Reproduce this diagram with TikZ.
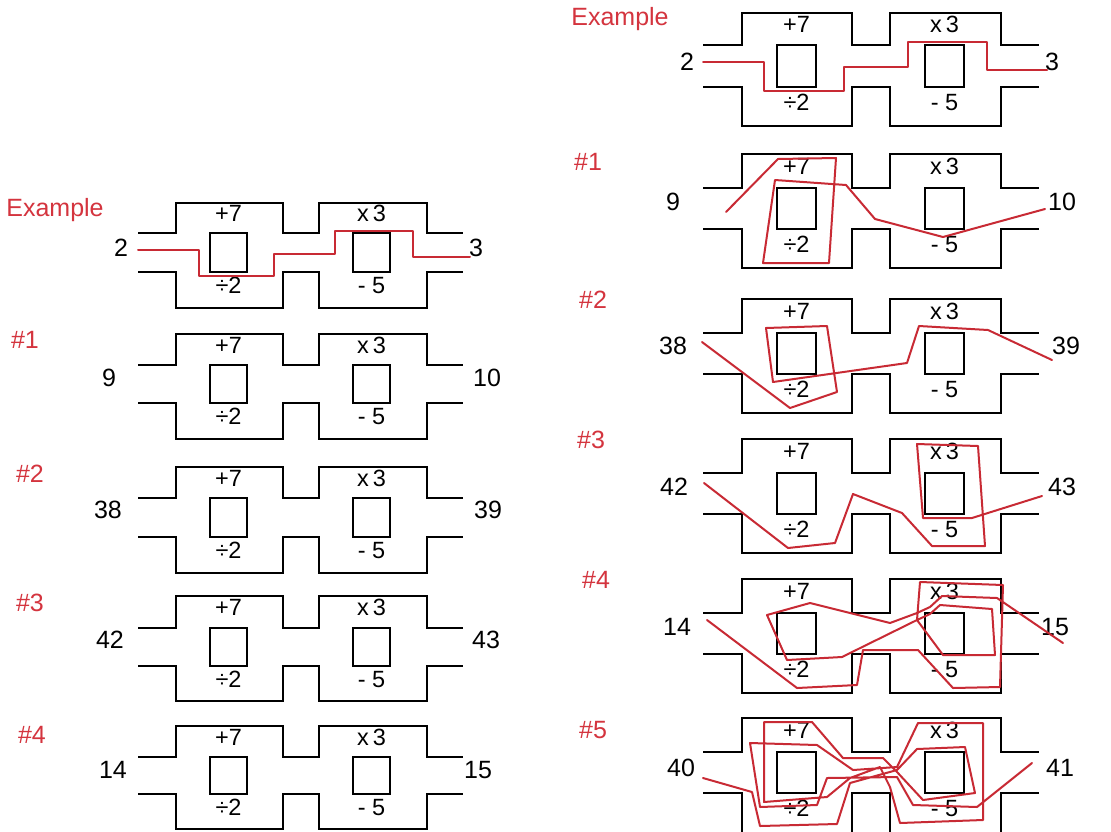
\documentclass[tikz,border=0pt]{standalone}
\usepackage{fontspec}
\setmainfont{Liberation Sans}
\definecolor{pen}{RGB}{200,42,52}
\definecolor{lab}{RGB}{212,52,62}
\tikzset{
  wall/.style={line width=2.2pt, draw=black},
  route/.style={line width=2pt, draw=pen, line join=round, line cap=round},
  txt/.style={inner sep=0pt, text height=0.72em, text depth=0pt},
  op/.style={txt, font=\fontsize{23.5}{26}\selectfont},
  num/.style={txt, font=\fontsize{25}{28}\selectfont},
  lbl/.style={txt, text=lab, font=\fontsize{25}{28}\selectfont},
}
\newcommand\mzL{\def\mzXl{138}\def\mzXa{176}\def\mzXb{283}\def\mzXc{319}\def\mzXd{427}\def\mzXr{463}\def\mzSa{210}\def\mzSb{353}\def\mzSw{37}}
\newcommand\mzR{\def\mzXl{703}\def\mzXa{742}\def\mzXb{852}\def\mzXc{890}\def\mzXd{1001}\def\mzXr{1039}\def\mzSa{777}\def\mzSb{925}\def\mzSw{39}}
% #1 name, #2 ytop, #3 yupper, #4 ylower, #5 ybottom
\newcommand\maze[5]{%
  \draw[wall] (\mzXl,#3) -- (\mzXa,#3) -- (\mzXa,#2) -- (\mzXb,#2) -- (\mzXb,#3) -- (\mzXc,#3)
     -- (\mzXc,#2) -- (\mzXd,#2) -- (\mzXd,#3) -- (\mzXr,#3);
  \draw[wall] (\mzXl,#4) -- (\mzXa,#4) -- (\mzXa,#5) -- (\mzXb,#5) -- (\mzXb,#4) -- (\mzXc,#4)
     -- (\mzXc,#5) -- (\mzXd,#5) -- (\mzXd,#4) -- (\mzXr,#4);
  \draw[wall] (\mzSa,#3) rectangle ({\mzSa+\mzSw},#4);
  \draw[wall] (\mzSb,#3) rectangle ({\mzSb+\mzSw},#4);
  \node[op] (#1-add) at ({\mzSa+\mzSw/2},{(#2+#3)/2}) {+7};
  \node[op] (#1-div) at ({\mzSa+\mzSw/2},{(#4+#5)/2}) {÷2};
  \node[op] (#1-mul) at ({\mzSb+\mzSw/2},{(#2+#3)/2}) {x\,3};
  \node[op] (#1-sub) at ({\mzSb+\mzSw/2},{(#4+#5)/2}) {- 5};
}
\begin{document}
\begin{tikzpicture}[x=1pt,y=-1pt]
\useasboundingbox (0,0) rectangle (1111,831);
\fill[white] (0,0) rectangle (1111,831);

% ---------------- left column ----------------
\mzL
\maze{LE}{203}{233}{272}{308}
\maze{L1}{334}{365}{403}{439}
\maze{L2}{467}{498}{537}{573}
\maze{L3}{596}{628}{666}{701}
\maze{L4}{726}{757}{794}{829}

\node[lbl] (LEt) at (55,213) {Example};
\node[lbl] (L1t) at (25,345) {\#1};
\node[lbl] (L2t) at (30,479) {\#2};
\node[lbl] (L3t) at (30,608) {\#3};
\node[lbl] (L4t) at (32,740) {\#4};

\node[num] (LEin) at (121,253) {2};
\node[num] (LEout) at (476,253) {3};
\node[num] (L1in) at (109,383) {9};
\node[num] (L1out) at (487,383) {10};
\node[num] (L2in) at (108,515) {38};
\node[num] (L2out) at (488,515) {39};
\node[num] (L3in) at (110,645) {42};
\node[num] (L3out) at (486,645) {43};
\node[num] (L4in) at (113,775) {14};
\node[num] (L4out) at (478,775) {15};

\draw[route] (138,250) -- (199,250) -- (199,276) -- (274,276) -- (274,254) -- (335,254)
  -- (335,231) -- (413,231) -- (413,257) -- (470,257);

% ---------------- right column ----------------
\mzR
\maze{RE}{13}{45}{87}{126}
\maze{R1}{154}{188}{229}{268}
\maze{R2}{299}{333}{374}{413}
\maze{R3}{439}{473}{514}{553}
\maze{R4}{579}{613}{654}{693}
\maze{R5}{718}{752}{793}{833}

\node[lbl] (REt) at (620,22) {Example};
\node[lbl] (R1t) at (588,167) {\#1};
\node[lbl] (R2t) at (593,305) {\#2};
\node[lbl] (R3t) at (591,445) {\#3};
\node[lbl] (R4t) at (596,585) {\#4};
\node[lbl] (R5t) at (593,735) {\#5};

\node[num] (REin) at (687,67) {2};
\node[num] (REout) at (1052,67) {3};
\node[num] (R1in) at (673,207) {9};
\node[num] (R1out) at (1062,207) {10};
\node[num] (R2in) at (673,351) {38};
\node[num] (R2out) at (1066,351) {39};
\node[num] (R3in) at (674,492) {42};
\node[num] (R3out) at (1062,492) {43};
\node[num] (R4in) at (677,632) {14};
\node[num] (R4out) at (1055,632) {15};
\node[num] (R5in) at (681,773) {40};
\node[num] (R5out) at (1060,773) {41};

\draw[route] (703,62) -- (764,62) -- (764,91) -- (844,91) -- (844,67) -- (908,67)
  -- (908,42) -- (987,42) -- (987,70) -- (1047,70);

\draw[route] (726,212) -- (778,159) -- (836,158) -- (829,263) -- (763,263) -- (775,180)
  -- (846,185) -- (875,219) -- (943,237) -- (1045,209);

\draw[route] (702,342) -- (790,408) -- (837,392) -- (827,326) -- (766,328) -- (773,382)
  -- (907,363) -- (919,326) -- (988,330) -- (1052,360);

\draw[route] (704,483) -- (788,548) -- (835,543) -- (853,494) -- (902,513) -- (932,546)
  -- (985,546) -- (978,446) -- (917,444) -- (923,518) -- (972,518) -- (1042,496);

\draw[route] (707,620) -- (797,688) -- (857,685) -- (863,650) -- (918,650) -- (953,688)
  -- (1000,687) -- (1003,585) -- (920,582) -- (917,620) -- (943,655) -- (995,655)
  -- (992,609) -- (940,605) -- (930,614) -- (917,620) -- (842,657) -- (787,660)
  -- (767,615) -- (810,603) -- (890,623) -- (917,613) -- (930,607) -- (942,596)
  -- (997,598) -- (1063,643);

\draw[route] (703,778) -- (752,792) -- (760,826) -- (837,824) -- (850,783) -- (897,770)
  -- (917,749) -- (965,747) -- (975,793) -- (923,800) -- (897,772) -- (883,758)
  -- (843,758) -- (812,722) -- (764,722) -- (764,802) -- (827,797) -- (850,778)
  -- (880,767) -- (890,787) -- (900,823) -- (983,820) -- (983,723) -- (918,723)
  -- (897,767) -- (853,770) -- (817,745) -- (750,743) -- (760,807) -- (817,805)
  -- (827,778) -- (897,777) -- (913,805) -- (977,807) -- (1032,763);
\end{tikzpicture}
\end{document}
